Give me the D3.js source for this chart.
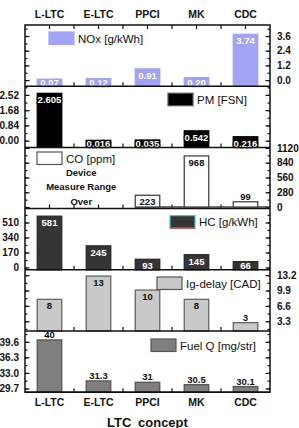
<!DOCTYPE html>
<html lang="en">
<head>
<meta charset="UTF-8">
<title>LTC concept</title>
<style>
  body { margin: 0; background: #fff; }
  text { font-family: "Liberation Sans", Arial, sans-serif; }
  .tick text { font-weight: bold; font-size: 10px; fill: #111; }
  .cat { font-weight: bold; font-size: 10.5px; fill: #111; }
  .val { font-weight: bold; font-size: 9.5px; }
  .leg { font-size: 11.5px; fill: #111; }
</style>
</head>
<body>
<div id="chart"></div>
<script src="https://d3js.org/d3.v7.min.js"></script>
<script>
var categories = ['L-LTC', 'E-LTC', 'PPCI', 'MK', 'CDC'];
var noxValues = [0.07, 0.12, 0.91, 0.20, 3.74];
var pmValues = [2.605, 0.016, 0.035, 0.542, 0.216];
var coValues = [null, null, 223, 968, 99];
var hcValues = [581, 245, 93, 145, 66];
var igValues = [8, 13, 10, 8, 3];
var fuelValues = [40, 31.3, 31, 30.5, 30.1];

var noxTicks = [0, 1.2, 2.4, 3.6];
var pmTicks = [0, 0.84, 1.68, 2.52];
var coTicks = [0, 280, 560, 840, 1120];
var hcTicks = [0, 170, 340, 510];
var igTicks = [3.3, 6.6, 9.9, 13.2];
var fuelTicks = [29.7, 33.0, 36.3, 39.6];

var width = 299, height = 428;
var padL = 25, padR = 270, padT = 25, panelH = 61.2;

var svg = d3.select('#chart').append('svg')
  .attr('width', width).attr('height', height);

var x = d3.scaleBand().domain(categories).range([padL, padR])
  .paddingInner(0.5).paddingOuter(0.25);

var panels = [
  { name: 'NOx [g/kWh]', values: noxValues, ticks: noxTicks, domain: [-0.5, 4.5], side: 'right',
    tickFmt: d3.format('.1f'), valFmt: d3.format('.2f'), fill: '#a3a3f5', stroke: '#a3a3f5',
    text: '#fff', mode: 'inside', fromBase: false, leg: [49, 7] },
  { name: 'PM [FSN]', values: pmValues, ticks: pmTicks, domain: [-0.37, 3.0], side: 'left',
    tickFmt: d3.format('.2f'), valFmt: d3.format('.3f'), fill: '#000', stroke: '#000',
    text: '#fff', mode: 'inside', fromBase: false, leg: [168, 7] },
  { name: 'CO [ppm]', values: coValues, ticks: coTicks, domain: [-30, 1130], side: 'right',
    tickFmt: d3.format('d'), valFmt: d3.format('d'), fill: '#fff', stroke: '#444',
    text: '#111', mode: 'auto', fromBase: true, leg: [37, 4.6] },
  { name: 'HC [g/kWh]', values: hcValues, ticks: hcTicks, domain: [-26, 667], side: 'left',
    tickFmt: d3.format('d'), valFmt: d3.format('d'), fill: '#353535', stroke: '#2a2a2a',
    text: '#fff', mode: 'inside', fromBase: false, leg: [170, 7] },
  { name: 'Ig-delay [CAD]', values: igValues, ticks: igTicks, domain: [1.2, 14.35], side: 'right',
    tickFmt: d3.format('.1f'), valFmt: d3.format('d'), fill: '#c9c9c9', stroke: '#666',
    text: '#111', mode: 'auto', fromBase: false, leg: [157, 7.2] },
  { name: 'Fuel Q [mg/str]', values: fuelValues, ticks: fuelTicks, domain: [28.9, 41.9], side: 'left',
    tickFmt: d3.format('.1f'), valFmt: String, fill: '#7f7f7f', stroke: '#555',
    text: '#111', mode: 'above', fromBase: false, leg: [151, 8] }
];

panels.forEach(function(p, i) {
  var y0 = padT + i * panelH, y1 = y0 + panelH;
  var y = d3.scaleLinear().domain(p.domain).range([y1, y0]);
  var g = svg.append('g');

  // minor ticks at half steps
  var step = p.ticks[1] - p.ticks[0];
  var minor = d3.range(p.ticks[0] - step / 2, p.domain[1], step / 2)
    .filter(function(v) { return v > p.domain[0] && v < p.domain[1]; });

  [[padL, d3.axisRight], [padR, d3.axisLeft]].forEach(function(s) {
    g.append('g').attr('transform', 'translate(' + s[0] + ',0)')
      .call(s[1](y).tickValues(minor).tickSize(2.5).tickFormat(''))
      .call(function(a) { a.select('.domain').remove(); });
    g.append('g').attr('transform', 'translate(' + s[0] + ',0)')
      .call(s[1](y).tickValues(p.ticks).tickSize(4.5).tickFormat(''))
      .call(function(a) { a.select('.domain').remove(); });
  });
  g.selectAll('.tick line').attr('stroke', '#111').attr('stroke-width', 1.2);

  // labelled side
  var lab = p.side === 'left'
    ? d3.axisLeft(y).tickSize(0).tickPadding(6)
    : d3.axisRight(y).tickSize(0).tickPadding(7);
  g.append('g').attr('transform', 'translate(' + (p.side === 'left' ? padL : padR) + ',0)')
    .call(lab.tickValues(p.ticks).tickFormat(p.tickFmt))
    .call(function(a) { a.select('.domain').remove(); });

  // category ticks on the panel bottom
  var xt = [];
  categories.forEach(function(c) { xt.push(x(c) + x.bandwidth() / 2); });
  d3.range(1, categories.length).forEach(function(k) { xt.push(padL + k * x.step()); });
  g.selectAll('line.xt').data(xt).enter().append('line')
    .attr('x1', function(d) { return d; }).attr('x2', function(d) { return d; })
    .attr('y1', y1).attr('y2', y1 - 4).attr('stroke', '#111').attr('stroke-width', 1.2);
  if (i === 0) {
    g.selectAll('line.xtt').data(xt).enter().append('line')
      .attr('x1', function(d) { return d; }).attr('x2', function(d) { return d; })
      .attr('y1', y0).attr('y2', y0 + 4).attr('stroke', '#111').attr('stroke-width', 1.2);
  }

  var base = p.fromBase ? y(0) : y1;
  var data = categories.map(function(c, k) { return { c: c, v: p.values[k] }; })
    .filter(function(d) { return d.v != null; });

  if (p.fromBase) {
    g.append('line').attr('x1', x(data[0].c)).attr('x2', padR)
      .attr('y1', base).attr('y2', base).attr('stroke', p.stroke).attr('stroke-width', 1.3);
  }

  g.selectAll('rect.bar').data(data).enter().append('rect')
    .attr('x', function(d) { return x(d.c); })
    .attr('width', x.bandwidth())
    .attr('y', function(d) { return y(d.v); })
    .attr('height', function(d) { return base - y(d.v); })
    .attr('fill', p.fill).attr('stroke', p.stroke).attr('stroke-width', 1.3);

  g.selectAll('text.val').data(data).enter().append('text')
    .attr('class', 'val')
    .attr('text-anchor', 'middle')
    .attr('dominant-baseline', 'central')
    .attr('x', function(d) { return x(d.c) + x.bandwidth() / 2; })
    .attr('y', function(d) {
      var t = y(d.v), h = base - t;
      var above = p.mode === 'above' || (p.mode === 'auto' && h < 9);
      return above ? t - 5.5 : Math.min(t + 6.5, base - 4);
    })
    .attr('fill', p.text)
    .attr('stroke', p.text === '#fff' ? p.fill : 'none')
    .attr('stroke-width', 2.5)
    .attr('paint-order', 'stroke')
    .text(function(d) { return p.valFmt(d.v); });

  // legend
  var lg = g.append('g').attr('transform', 'translate(' + p.leg[0] + ',' + (y0 + p.leg[1]) + ')');
  lg.append('rect').attr('width', 25).attr('height', 12.5)
    .attr('fill', p.fill)
    .attr('stroke', i === 3 ? '#3cc' : (i === 0 ? p.fill : '#555')).attr('stroke-width', 1.2);
  if (i === 3) {
    lg.append('line').attr('x1', 0).attr('x2', 25).attr('y1', 12.5).attr('y2', 12.5)
      .attr('stroke', '#d33').attr('stroke-width', 1.2);
  }
  lg.append('text').attr('class', 'leg').attr('x', 29).attr('y', 10.5).text(p.name);

  if (i === 2) {
    var ax = x('E-LTC') - 5;
    ['Device', 'Measure Range', 'Over'].forEach(function(t, k) {
      g.append('text').attr('class', 'val').attr('fill', '#111')
        .attr('text-anchor', 'middle').attr('dominant-baseline', 'central')
        .attr('x', ax).attr('y', y0 + 25.5 + [0, 14, 29][k]).text(t);
    });
  }

  g.append('line').attr('x1', padL).attr('x2', padR).attr('y1', y1).attr('y2', y1)
    .attr('stroke', '#111').attr('stroke-width', 1.5);
});

svg.append('rect').attr('x', padL).attr('y', padT)
  .attr('width', padR - padL).attr('height', panelH * panels.length)
  .attr('fill', 'none').attr('stroke', '#111').attr('stroke-width', 1.5);

[14, padT + panelH * panels.length + 10].forEach(function(ty) {
  svg.selectAll(null).data(categories).enter().append('text')
    .attr('class', 'cat').attr('text-anchor', 'middle').attr('dominant-baseline', 'central')
    .attr('x', function(d) { return x(d) + x.bandwidth() / 2; })
    .attr('y', ty).text(function(d) { return d; });
});

svg.append('text').attr('x', (padL + padR) / 2).attr('y', 422)
  .attr('text-anchor', 'middle').attr('dominant-baseline', 'central')
  .attr('font-weight', 'bold').attr('font-size', 13).attr('word-spacing', 3)
  .attr('fill', '#111').text('LTC concept');
</script>
</body>
</html>
